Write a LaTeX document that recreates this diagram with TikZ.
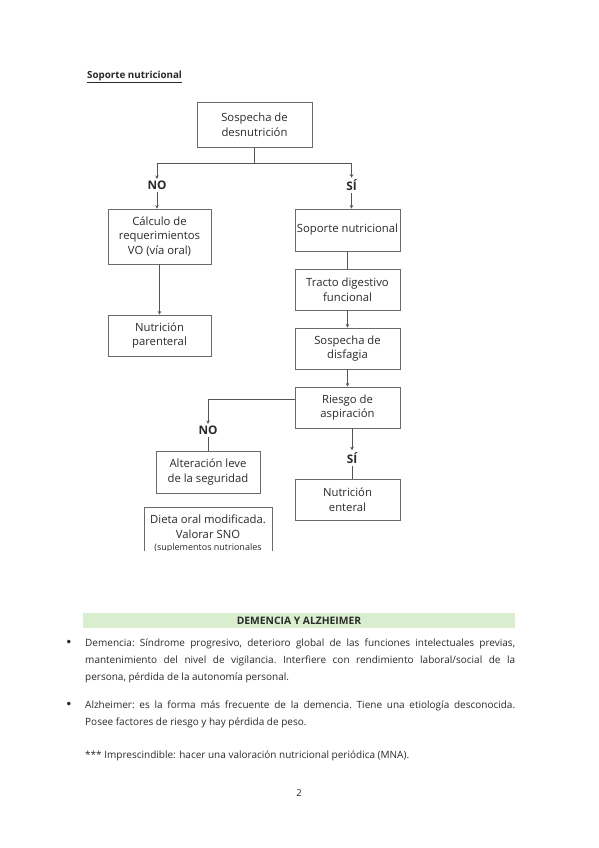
\documentclass[tikz,border=0pt]{standalone}
\usepackage{fontspec}
\setmainfont{Open Sans}
\newfontfamily\flowfont{Open Sans}
\newfontfamily\dejavu{DejaVu Sans}
\usetikzlibrary{arrows.meta}
\definecolor{linegray}{HTML}{555555}
\definecolor{boxgray}{HTML}{6A6A6A}
\definecolor{txtgray}{HTML}{2A2A2A}
\definecolor{barGreen}{HTML}{D9EDCF}
\begin{document}
\begin{tikzpicture}[x=1pt,y=-1pt,
  fbox/.style={draw=boxgray, line width=0.8pt, fill=white, align=center, inner sep=0pt,
    text=txtgray, font=\flowfont\fontsize{11.3}{14.8}\selectfont},
  lab/.style={font=\flowfont\bfseries\fontsize{11.8}{12}\selectfont, inner sep=2pt, text=txtgray},
  conn/.style={draw=linegray, line width=0.7pt},
  arr/.style={conn, -{Stealth[length=3.5pt,width=3.5pt]}},
  body/.style={font=\fontsize{10}{16.6}\selectfont, text=txtgray, inner sep=0pt, anchor=north west, text width=430pt, align=justify},
  bul/.style={inner sep=0pt, font=\dejavu\fontsize{12}{12}\selectfont, text=txtgray}
]
\useasboundingbox (0,0) rectangle (599,848);
\fill[white] (0,0) rectangle (599,848);

\node[anchor=west, inner sep=0pt, font=\bfseries\fontsize{9.8}{11}\selectfont, text=txtgray] (title) at (87,77) {\underline{Soporte nutricional}};

% boxes
\node[fbox, minimum width=115pt, minimum height=45pt] (top) at (254.5,124.5) {Sospecha de\\desnutrición};
\node[fbox, minimum width=103pt, minimum height=55pt] (calc) at (159.5,236.5) {Cálculo de\\requerimientos\\VO (vía oral)};
\node[fbox, minimum width=103pt, minimum height=41pt] (paren) at (159.5,335.5) {Nutrición\\parenteral};
\node[fbox, minimum width=105pt, minimum height=42pt] (sop) at (347.5,230) {Soporte nutricional};
\node[fbox, minimum width=105pt, minimum height=41pt] (tracto) at (347.5,289.5) {Tracto digestivo\\funcional};
\node[fbox, minimum width=105pt, minimum height=41pt] (disf) at (347.5,348.5) {Sospecha de\\disfagia};
\node[fbox, minimum width=105pt, minimum height=41pt] (riesgo) at (347.5,407.5) {Riesgo de\\aspiración};
\node[fbox, minimum width=104pt, minimum height=42pt] (alter) at (208,472) {Alteración leve\\de la seguridad};
\node[fbox, minimum width=105pt, minimum height=41pt] (enteral) at (347.5,499.5) {Nutrición\\enteral};

% labels
\node[lab] (no1) at (157,185.5) {NO};
\node[lab] (si1) at (351.5,185.5) {SÍ};
\node[lab] (no2) at (208,430.5) {NO};
\node[lab] (si2) at (352,458) {SÍ};

% connectors
\coordinate (j1) at (254.5,163);
\draw[conn] (top.south) -- (j1);
\draw[arr] (j1) -| (no1.north);
\draw[arr] (j1) -| (si1.north);
\draw[arr] (no1.south) -- (no1.south |- calc.north);
\draw[arr] (si1.south) -- (si1.south |- sop.north);
\draw[arr] (calc.south) -- (paren.north);
\draw[conn] (sop.south) -- (tracto.north);
\draw[arr] (tracto.south) -- (disf.north);
\draw[arr] (disf.south) -- (riesgo.north);
\coordinate (rw) at ([yshift=8.5pt]riesgo.west);
\draw[arr] (rw) -| (no2.north);
\draw[conn] (no2.south) -- (no2.south |- alter.north);
\draw[arr] (riesgo.south -| si2.north) -- (si2.north);
\draw[conn] (si2.south) -- (si2.south |- enteral.north);

% clipped box
\begin{scope}
\clip (140,504) rectangle (276,550.5);
\node[align=center, inner sep=0pt, text=txtgray, font=\flowfont\fontsize{11.3}{14.8}\selectfont] (dieta) at (208,527) {Dieta oral modificada.\\Valorar SNO};
\node[inner sep=0pt, text=txtgray, font=\flowfont\fontsize{9}{10}\selectfont] (dieta2) at (208,548.5) {(suplementos nutrionales};
\draw[draw=boxgray, line width=0.8pt] (144,560) -- (144,507) -- (272,507) -- (272,560);
\end{scope}

% green header bar
\fill[barGreen] (83,613) rectangle (515,628);
\node[font=\bfseries\fontsize{10.3}{11}\selectfont, text=txtgray, inner sep=0pt] (dem) at (299,620.5) {DEMENCIA Y ALZHEIMER};

% bullets and paragraphs
\node[bul] (b1) at (69,643) {•};
\node[bul] (b2) at (69,705) {•};
\node[body] (p1) at (85,639) {\frenchspacing\hbadness=10000 Demencia: Síndrome progresivo, deterioro global de las funciones intelectuales previas,\linebreak mantenimiento del nivel de vigilancia. Interfiere con rendimiento laboral/social de la\linebreak persona, pérdida de la autonomía personal.};
\node[body] (p2) at (85,701) {\frenchspacing\hbadness=10000 Alzheimer: es la forma más frecuente de la demencia. Tiene una etiología desconocida.\linebreak Posee factores de riesgo y hay pérdida de peso.};
\node[anchor=west, inner sep=0pt, font=\fontsize{10}{10}\selectfont, text=txtgray] (imp) at (85,756) {*** Imprescindible: hacer una valoración nutricional periódica (MNA).};

\node[inner sep=0pt, font=\fontsize{9.5}{10}\selectfont, text=txtgray] (pg) at (299,793) {2};
\end{tikzpicture}
\end{document}
